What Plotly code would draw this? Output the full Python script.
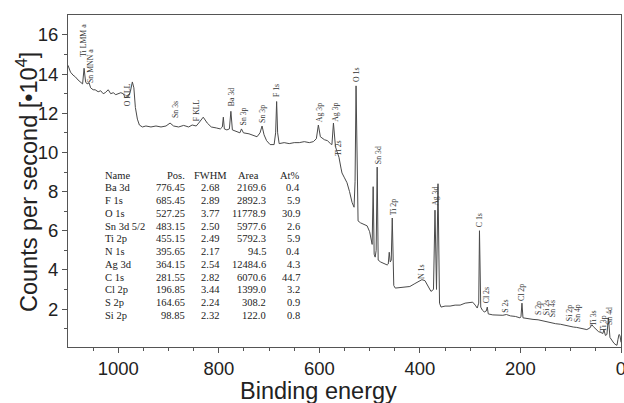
import plotly.graph_objects as go

# ---- spectrum (binding energy in eV, counts per second x1e4) ----
binding_energy = [
    1100, 1095, 1090, 1085, 1080, 1075, 1071, 1068, 1065, 1062, 1058, 1055, 1050, 1046,
    1040, 1035, 1030, 1026, 1020, 1015, 1010, 1005, 1000, 995, 990, 986, 980, 976, 972,
    969, 966, 962, 958, 952, 945, 935, 925, 915, 905, 897, 890, 880, 870, 860, 853, 845,
    840, 831, 823, 815, 805, 797, 793, 791, 789, 784, 779, 776, 773, 765, 758, 755, 751,
    740, 730, 724, 718, 714, 710, 705, 698, 690, 687, 685, 683, 680, 670, 660, 650, 640,
    630, 620, 612, 606, 602, 598, 590, 584, 578, 575, 572, 568, 565, 561, 557, 555, 550,
    545, 540, 535, 531, 529, 527, 525, 523, 518, 510, 505, 500, 497, 495, 493, 491, 489,
    487, 485, 483, 478, 470, 465, 463, 461, 459, 457, 455, 452, 449, 440, 430, 420, 410,
    400, 396, 390, 384, 378, 373, 370, 367, 364, 361, 358, 350, 340, 330, 320, 310, 300,
    295, 290, 286, 283, 281.5, 279, 276, 272, 268, 266, 264, 255, 247, 235, 228, 220, 210,
    201, 199, 197, 195, 185, 175, 165, 160, 152, 145, 137, 130, 120, 110, 100, 95, 88, 82,
    75, 68, 62, 58, 55, 50, 45, 40, 36, 34, 31, 28, 25, 22, 18, 14, 10, 8, 6, 4, 2, 0,
]
counts = [
    14.45, 14.1, 13.95, 13.85, 13.7, 13.6, 13.5, 14.3, 13.6, 13.5, 13.55, 13.3, 13.2, 13.2,
    13.1, 13.15, 13.0, 13.05, 13.2, 13.0, 13.05, 12.95, 13.0, 13.05, 13.0, 12.8, 12.85, 13.1, 13.6,
    13.3, 12.3, 11.7, 11.4, 11.3, 11.35, 11.3, 11.35, 11.3, 11.35, 11.5, 11.35, 11.3, 11.38, 11.3, 11.4, 11.35,
    11.5, 11.8, 11.5, 11.3, 11.25, 11.2, 11.3, 11.8, 11.2, 11.15, 11.2, 12.1, 11.15, 11.05, 11.0, 11.2, 11.0,
    10.95, 10.85, 10.8, 11.0, 11.35, 10.9, 10.6, 10.4, 10.4, 11.0, 12.6, 11.0, 10.45, 10.5, 10.45, 10.5, 10.5,
    10.55, 10.5, 10.55, 10.7, 11.4, 10.8, 10.65, 10.6, 10.45, 10.4, 11.5, 10.3, 10.05, 9.75, 9.2, 8.95, 8.7,
    8.45, 8.0, 7.45, 7.2, 8.5, 13.4, 8.0, 6.5, 6.4, 6.3, 6.25, 5.95, 5.4, 5.3, 8.25, 4.8, 4.65,
    5.0, 9.25, 4.5, 4.4, 4.3, 4.25, 4.3, 4.9, 4.4, 4.5, 6.65, 3.2, 3.07, 3.1, 3.12, 3.15, 3.3,
    3.45, 3.5, 3.45, 3.2, 2.9, 3.0, 7.05, 3.0, 8.4, 2.3, 2.1, 2.15, 2.15, 2.2, 2.2, 2.3, 2.35,
    2.35, 2.2, 2.05, 2.3, 6.0, 2.1, 1.95, 1.85, 1.9, 2.1, 1.75, 1.7, 1.7, 1.68, 1.72, 1.65, 1.62,
    1.55, 1.6, 2.3, 1.55, 1.5, 1.47, 1.45, 1.42, 1.4, 1.35, 1.3, 1.25, 1.22, 1.15, 1.1, 1.08, 1.06, 1.03,
    0.98, 0.95, 1.03, 1.2, 1.1, 0.95, 0.85, 0.8, 0.75, 0.95, 0.65, 0.7, 1.55, 0.55, 0.4, 0.25, 0.17, 0.15, 0.45, 0.7, 0.65, 0.3,
]

# ---- peak labels ----
peak_labels = ["Ti LMM a", "Sn MNN a", "O KLL", "Sn 3s", "F KLL", "Ba 3d", "Sn 3p", "Sn 3p",
               "F 1s", "Ag 3p", "Ag 3p", "Ti 2s", "O 1s", "Sn 3d", "Ti 2p", "Ag 3d", "C 1s",
               "N 1s", "Cl 2s", "S 2s", "Cl 2p", "S 2p", "Si 2s", "Sn 4s", "Si 2p", "Sn 4p",
               "Ti 3s", "Ti 3p", "Sn 4d"]
peak_label_energy = [1068, 1054, 980, 885, 843, 775, 751, 712, 684, 598, 567, 561, 525, 481,
                     453, 368, 280, 398, 266, 229, 197, 165, 149, 137, 101, 85, 56, 34, 24]
peak_label_height = [15.7, 14.42, 12.94, 12.17, 12.17, 12.84, 11.86, 11.97, 13.14, 12.02, 12.07,
                     10.23, 13.96, 9.87, 7.21, 7.73, 6.55, 3.94, 2.72, 2.16, 2.87, 2.05, 2.05,
                     2.0, 1.8, 1.8, 1.54, 1.29, 1.64]

# ---- quantification table ----
table_header = ["Name", "Pos.", "FWHM", "Area", "At%"]
comp_names = ["Ba 3d", "F 1s", "O 1s", "Sn 3d 5/2", "Ti 2p", "N 1s", "Ag 3d", "C 1s",
              "Cl 2p", "S 2p", "Si 2p"]
comp_pos = ["776.45", "685.45", "527.25", "483.15", "455.15", "395.65", "364.15", "281.55",
            "196.85", "164.65", "98.85"]
comp_fwhm = ["2.68", "2.89", "3.77", "2.50", "2.49", "2.17", "2.54", "2.82", "3.44", "2.24", "2.32"]
comp_area = ["2169.6", "2892.3", "11778.9", "5977.6", "5792.3", "94.5", "12484.6", "6070.6",
             "1399.0", "308.2", "122.0"]
comp_at = ["0.4", "5.9", "30.9", "2.6", "5.9", "0.4", "4.3", "44.7", "3.2", "0.9", "0.8"]

x_title = "Binding energy"
y_title = "Counts per second [•10<sup>4</sup>]"

fig = go.Figure()
fig.add_trace(go.Scatter(x=binding_energy, y=counts, mode="lines",
                         line=dict(color="#4a4a4a", width=1), hoverinfo="skip"))

serif = "Liberation Serif, Times New Roman, serif"
sans = "Liberation Sans, Arial, sans-serif"

for name, e, h in zip(peak_labels, peak_label_energy, peak_label_height):
    fig.add_annotation(x=e, y=h, xref="x", yref="y", text=name, showarrow=False,
                       textangle=-90, font=dict(family=serif, size=7.8, color="#333"),
                       xanchor="center", yanchor="middle")

# table (paper coordinates)
col_x = [0.0633, 0.2152, 0.2568, 0.3617, 0.4231]
col_anchor = ["left", "right", "center", "right", "right"]
hdr_x = [0.0633, 0.2152, 0.2568, 0.3264, 0.4231]
hdr_anchor = ["left", "right", "center", "center", "right"]
row0 = 0.518
step = 0.0384
for txt, xx, an in zip(table_header, hdr_x, hdr_anchor):
    fig.add_annotation(x=xx, y=row0, xref="paper", yref="paper", text=txt, showarrow=False,
                       xanchor=an, yanchor="middle", font=dict(family=serif, size=10.5, color="#222"))
rows = list(zip(comp_names, comp_pos, comp_fwhm, comp_area, comp_at))
for i, row in enumerate(rows):
    yy = row0 - step * (i + 1)
    for txt, xx, an in zip(row, col_x, col_anchor):
        fig.add_annotation(x=xx, y=yy, xref="paper", yref="paper", text=txt, showarrow=False,
                           xanchor=an, yanchor="middle",
                           font=dict(family=serif, size=10.5, color="#222"))

# axis titles as annotations (paper coords; plot area is 68..621 x 15..347 px)
fig.add_annotation(x=(318 - 68) / 553, y=(347 - 391) / 332, xref="paper", yref="paper",
                   text=x_title, showarrow=False, xanchor="center", yanchor="middle",
                   font=dict(family=sans, size=23.5, color="#222"))
fig.add_annotation(x=(27 - 68) / 553, y=(347 - 182) / 332, xref="paper", yref="paper",
                   text=y_title, showarrow=False, xanchor="center", yanchor="middle",
                   textangle=-90, font=dict(family=sans, size=23.5, color="#222"))

fig.update_layout(
    width=624, height=403,
    margin=dict(l=68, r=3, t=15, b=56, autoexpand=False),
    paper_bgcolor="white", plot_bgcolor="white",
    showlegend=False,
    font=dict(family=sans, color="#222"),
)
fig.update_xaxes(
    automargin=False, ticklabeloverflow="allow",
    range=[1100, 0], tickmode="array", tickvals=[1000, 800, 600, 400, 200, 0],
    ticks="outside", ticklen=5, tickcolor="#555", showgrid=False, zeroline=False,
    showline=True, linecolor="#555", linewidth=1, mirror=True,
    tickfont=dict(family=sans, size=18.5, color="#222"),
    minor=dict(tickmode="array", tickvals=[1050, 950, 900, 850, 750, 700, 650, 550, 500, 450, 350, 300, 250, 150, 100, 50],
               ticks="outside", ticklen=3, tickcolor="#555"),
)
fig.update_yaxes(
    automargin=False,
    range=[0.06, 17.02], tickmode="array", tickvals=[2, 4, 6, 8, 10, 12, 14, 16],
    ticks="outside", ticklen=5, tickcolor="#555", showgrid=False, zeroline=False,
    showline=True, linecolor="#555", linewidth=1, mirror=True,
    tickfont=dict(family=sans, size=18.5, color="#222"),
    minor=dict(tickmode="array", tickvals=[1, 3, 5, 7, 9, 11, 13, 15],
               ticks="outside", ticklen=3, tickcolor="#555"),
)

fig.write_html("out.html", config={"displayModeBar": False},
               post_script="document.body.style.margin='0';document.body.style.overflow='hidden';")
